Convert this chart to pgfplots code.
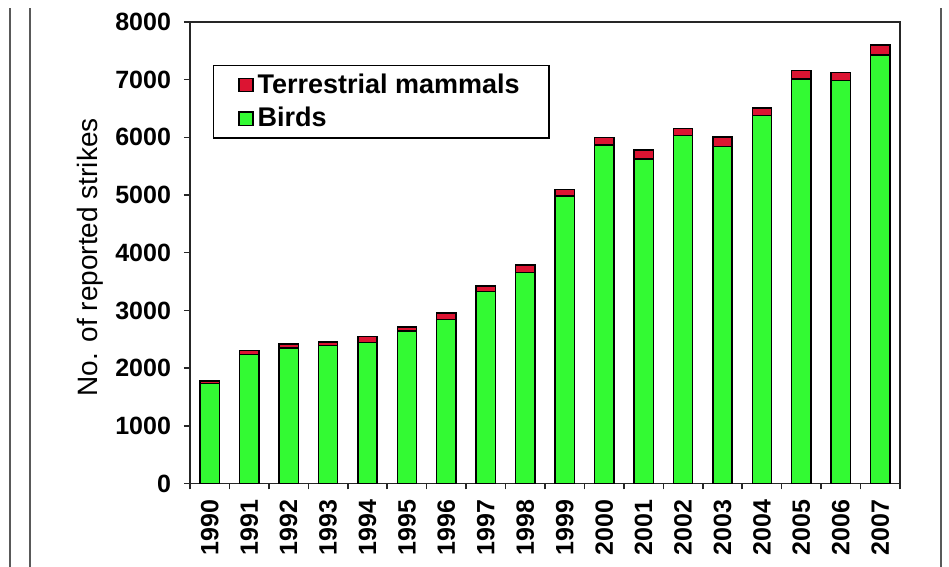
\documentclass[border=0pt]{standalone}
\usepackage{pgfplots}
\pgfplotsset{compat=1.18}
\usepackage{pgfplotstable}
\usepackage{fontspec}
\setmainfont{Liberation Sans}

\definecolor{birdgreen}{RGB}{51,250,51}
\definecolor{mammalred}{RGB}{220,20,50}

\pgfplotsset{
    squarelegend/.style={
        legend image code/.code={\draw[##1, line width=0.6pt] (0pt,-3.3pt) rectangle (7pt,3.3pt);}
    }
}

% reported strikes per year: birds and terrestrial mammals
\pgfplotstableread{
idx year birds mammals
0  1990 1735 45
1  1991 2235 70
2  1992 2350 70
3  1993 2395 55
4  1994 2440 110
5  1995 2640 70
6  1996 2840 115
7  1997 3330 95
8  1998 3660 130
9  1999 4980 120
10 2000 5870 125
11 2001 5625 160
12 2002 6030 120
13 2003 5845 160
14 2004 6380 125
15 2005 7010 145
16 2006 6985 140
17 2007 7425 180
}\strikes

\begin{document}
\begin{tikzpicture}
\path[use as bounding box] (0,0) rectangle (474.5pt,283.5pt);
\draw[line width=1pt, black!65] (5pt,0) -- (5pt,279.5pt);
\draw[line width=1pt, black!65] (15pt,0) -- (15pt,279.5pt);
\draw[line width=1pt, black!65] (470.5pt,0) -- (470.5pt,279.5pt);
\begin{axis}[
    at={(95pt,41.75pt)}, anchor=south west,
    scale only axis,
    width=355pt, height=230.75pt,
    ybar stacked,
    bar width=0.49,
    xmin=-0.5, xmax=17.5,
    ymin=0, ymax=8000,
    xtick={-0.5,0.5,...,17.5},
    xticklabels={},
    extra x ticks={0,1,...,17},
    extra x tick labels={1990,1991,1992,1993,1994,1995,1996,1997,1998,1999,2000,2001,2002,2003,2004,2005,2006,2007},
    extra x tick style={major tick length=0pt},
    ytick={0,1000,...,8000},
    scaled y ticks=false,
    /pgf/number format/1000 sep={},
    /pgf/number format/assume math mode=true,
    tick align=outside,
    tick pos=left,
    major tick length=3pt,
    axis line style={line width=0.75pt, black!85},
    tick style={line width=0.75pt, black!85},
    tick label style={font=\fontsize{12.5}{14}\selectfont\bfseries},
    xticklabel style={rotate=90, anchor=east, xshift=-4.5pt},
    yticklabel style={xshift=-3pt},
    ylabel={No. of reported strikes},
    ylabel style={font=\fontsize{14}{16}\selectfont, at={(axis description cs:-0.141,0.49)}, anchor=center},
    legend style={at={(0.032,0.907)}, anchor=north west, draw=black, line width=0.75pt,
        font=\fontsize{13.5}{16}\selectfont\bfseries, inner xsep=12.5pt, inner ysep=2pt,
        row sep=1.5pt},
    legend cell align=left,
    reverse legend,
]
\addplot[fill=birdgreen, draw=black, line width=0.75pt, squarelegend]
    table[x=idx, y=birds]{\strikes};
\addlegendentry{Birds}
\addplot[fill=mammalred, draw=black, line width=0.75pt, squarelegend]
    table[x=idx, y=mammals]{\strikes};
\addlegendentry{Terrestrial mammals}
\end{axis}
\end{tikzpicture}
\end{document}
